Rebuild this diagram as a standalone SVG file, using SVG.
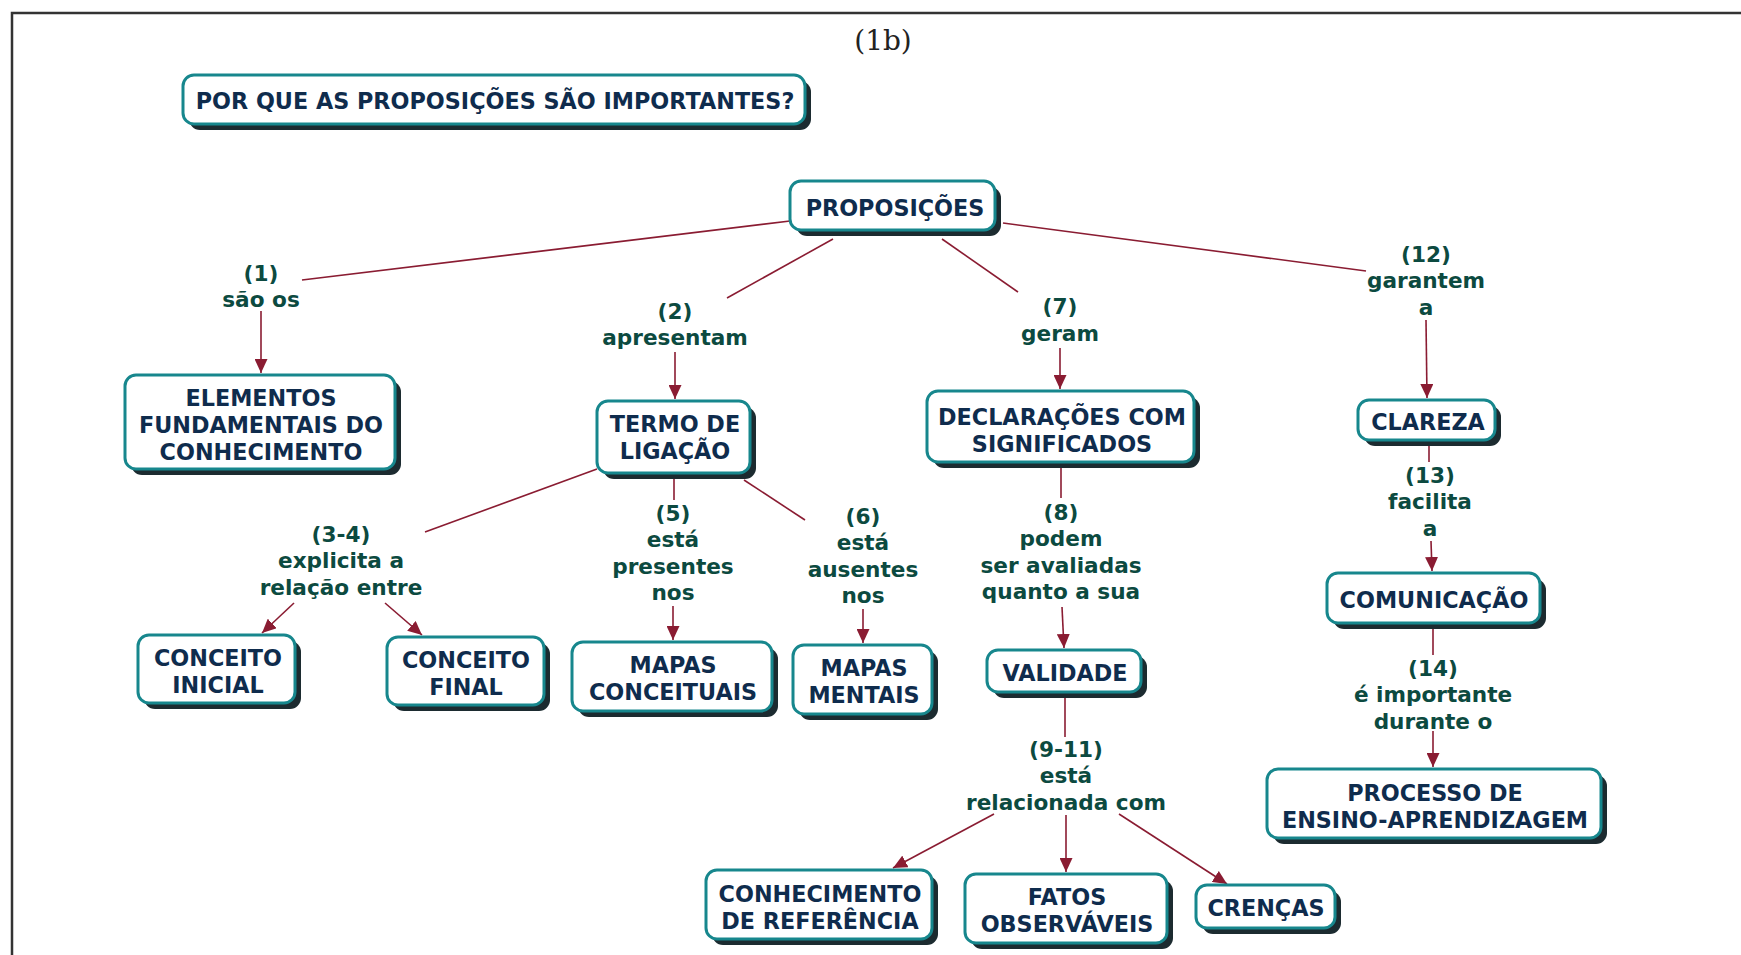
<svg xmlns="http://www.w3.org/2000/svg" width="1741" height="955" viewBox="0 0 1741 955">
  <defs>
    <marker id="arrow" markerUnits="userSpaceOnUse" markerWidth="15" markerHeight="13" refX="14" refY="6.5" orient="auto">
      <path d="M0,0 L14,6.5 L0,13 z" fill="#8a1c32"/>
    </marker>
    <style>
      .shadow { fill: #1c2b30; }
      .box { fill: #ffffff; stroke: #17878d; stroke-width: 3; }
      .nt { font-family: "DejaVu Sans", Verdana, sans-serif; font-weight: bold; font-size: 22.3px; fill: #0f2c4d; text-anchor: middle; }
      .lt { font-family: "DejaVu Sans", Verdana, sans-serif; font-weight: bold; font-size: 21.6px; fill: #0c4a40; text-anchor: middle; }
      .ln { fill: none; stroke: #8a1c32; stroke-width: 1.6; }
      .ar { marker-end: url(#arrow); }
    </style>
  </defs>

  <rect width="1741" height="955" fill="#ffffff"/>

  <!-- outer frame (open at right and bottom) -->
  <path d="M12,955 L12,13 L1741,13" fill="none" stroke="#333333" stroke-width="2.5"/>

  <text x="883" y="50" font-family="DejaVu Serif, 'Liberation Serif', serif" font-size="28" fill="#222222" text-anchor="middle">(1b)</text>

  <!-- connectors -->
  <g id="connectors">
    <line class="ln" x1="790" y1="221" x2="302" y2="280"/>
    <line class="ln ar" x1="261" y1="311" x2="261" y2="373"/>
    <line class="ln" x1="833" y1="239" x2="727" y2="298"/>
    <line class="ln ar" x1="675" y1="352" x2="675" y2="399"/>
    <line class="ln" x1="942" y1="239" x2="1018" y2="292"/>
    <line class="ln ar" x1="1060" y1="348" x2="1060" y2="389"/>
    <line class="ln" x1="1003" y1="223" x2="1366" y2="271"/>
    <line class="ln ar" x1="1426" y1="320" x2="1427" y2="398"/>
    <line class="ln" x1="1429" y1="446" x2="1429" y2="462"/>
    <line class="ln ar" x1="1431" y1="541" x2="1432" y2="571"/>
    <line class="ln" x1="1433" y1="627" x2="1433" y2="655"/>
    <line class="ln ar" x1="1433" y1="731" x2="1433" y2="767"/>
    <line class="ln" x1="597" y1="469" x2="425" y2="532"/>
    <line class="ln ar" x1="294" y1="603" x2="262" y2="633"/>
    <line class="ln ar" x1="385" y1="603" x2="422" y2="635"/>
    <line class="ln" x1="674" y1="475" x2="674" y2="500"/>
    <line class="ln ar" x1="673" y1="606" x2="673" y2="640"/>
    <line class="ln" x1="744" y1="480" x2="805" y2="520"/>
    <line class="ln ar" x1="863" y1="609" x2="863" y2="643"/>
    <line class="ln" x1="1061" y1="464" x2="1061" y2="498"/>
    <line class="ln ar" x1="1062" y1="607" x2="1064" y2="648"/>
    <line class="ln" x1="1065" y1="694" x2="1065" y2="737"/>
    <line class="ln ar" x1="994" y1="814" x2="893" y2="868"/>
    <line class="ln ar" x1="1066" y1="815" x2="1066" y2="872"/>
    <line class="ln ar" x1="1119" y1="814" x2="1227" y2="884"/>
  </g>

  <!-- linking phrases -->
  <g id="link-1"><text class="lt" x="261" y="281">(1)</text><text class="lt" x="261" y="307">são os</text></g>
  <g id="link-2"><text class="lt" x="675" y="319">(2)</text><text class="lt" x="675" y="345">apresentam</text></g>
  <g id="link-7"><text class="lt" x="1060" y="314">(7)</text><text class="lt" x="1060" y="341">geram</text></g>
  <g id="link-12"><text class="lt" x="1426" y="262">(12)</text><text class="lt" x="1426" y="288">garantem</text><text class="lt" x="1426" y="315">a</text></g>
  <g id="link-13"><text class="lt" x="1430" y="483">(13)</text><text class="lt" x="1430" y="509">facilita</text><text class="lt" x="1430" y="536">a</text></g>
  <g id="link-14"><text class="lt" x="1433" y="676">(14)</text><text class="lt" x="1433" y="702">é importante</text><text class="lt" x="1433" y="729">durante o</text></g>
  <g id="link-3-4"><text class="lt" x="341" y="542">(3-4)</text><text class="lt" x="341" y="568">explicita a</text><text class="lt" x="341" y="595">relação entre</text></g>
  <g id="link-5"><text class="lt" x="673" y="521">(5)</text><text class="lt" x="673" y="547">está</text><text class="lt" x="673" y="574">presentes</text><text class="lt" x="673" y="600">nos</text></g>
  <g id="link-6"><text class="lt" x="863" y="524">(6)</text><text class="lt" x="863" y="550">está</text><text class="lt" x="863" y="577">ausentes</text><text class="lt" x="863" y="603">nos</text></g>
  <g id="link-8"><text class="lt" x="1061" y="520">(8)</text><text class="lt" x="1061" y="546">podem</text><text class="lt" x="1061" y="573">ser avaliadas</text><text class="lt" x="1061" y="599">quanto a sua</text></g>
  <g id="link-9-11"><text class="lt" x="1066" y="757">(9-11)</text><text class="lt" x="1066" y="783">está</text><text class="lt" x="1066" y="810">relacionada com</text></g>

  <!-- concept nodes -->
  <g id="node-pergunta">
    <rect class="shadow" x="189" y="81" width="622" height="49" rx="11"/>
    <rect class="box" x="183" y="75" width="622" height="49" rx="11"/>
    <text class="nt" x="495" y="109">POR QUE AS PROPOSIÇÕES SÃO IMPORTANTES?</text>
  </g>
  <g id="node-proposicoes">
    <rect class="shadow" x="796" y="187" width="205" height="49" rx="11"/>
    <rect class="box" x="790" y="181" width="205" height="49" rx="11"/>
    <text class="nt" x="895" y="216">PROPOSIÇÕES</text>
  </g>
  <g id="node-elementos">
    <rect class="shadow" x="131" y="381" width="270" height="94" rx="11"/>
    <rect class="box" x="125" y="375" width="270" height="94" rx="11"/>
    <text class="nt" x="261" y="406">ELEMENTOS</text>
    <text class="nt" x="261" y="433">FUNDAMENTAIS DO</text>
    <text class="nt" x="261" y="460">CONHECIMENTO</text>
  </g>
  <g id="node-termo">
    <rect class="shadow" x="603" y="407" width="153" height="72" rx="11"/>
    <rect class="box" x="597" y="401" width="153" height="72" rx="11"/>
    <text class="nt" x="675" y="432">TERMO DE</text>
    <text class="nt" x="675" y="459">LIGAÇÃO</text>
  </g>
  <g id="node-declaracoes">
    <rect class="shadow" x="933" y="397" width="267" height="71" rx="11"/>
    <rect class="box" x="927" y="391" width="267" height="71" rx="11"/>
    <text class="nt" x="1062" y="425">DECLARAÇÕES COM</text>
    <text class="nt" x="1062" y="452">SIGNIFICADOS</text>
  </g>
  <g id="node-clareza">
    <rect class="shadow" x="1364" y="406" width="137" height="40" rx="11"/>
    <rect class="box" x="1358" y="400" width="137" height="40" rx="11"/>
    <text class="nt" x="1428" y="430">CLAREZA</text>
  </g>
  <g id="node-conceito-inicial">
    <rect class="shadow" x="144" y="641" width="157" height="68" rx="11"/>
    <rect class="box" x="138" y="635" width="157" height="68" rx="11"/>
    <text class="nt" x="218" y="666">CONCEITO</text>
    <text class="nt" x="218" y="693">INICIAL</text>
  </g>
  <g id="node-conceito-final">
    <rect class="shadow" x="393" y="643" width="157" height="68" rx="11"/>
    <rect class="box" x="387" y="637" width="157" height="68" rx="11"/>
    <text class="nt" x="466" y="668">CONCEITO</text>
    <text class="nt" x="466" y="695">FINAL</text>
  </g>
  <g id="node-mapas-conceituais">
    <rect class="shadow" x="578" y="648" width="200" height="69" rx="11"/>
    <rect class="box" x="572" y="642" width="200" height="69" rx="11"/>
    <text class="nt" x="673" y="673">MAPAS</text>
    <text class="nt" x="673" y="700">CONCEITUAIS</text>
  </g>
  <g id="node-mapas-mentais">
    <rect class="shadow" x="799" y="651" width="139" height="69" rx="11"/>
    <rect class="box" x="793" y="645" width="139" height="69" rx="11"/>
    <text class="nt" x="864" y="676">MAPAS</text>
    <text class="nt" x="864" y="703">MENTAIS</text>
  </g>
  <g id="node-validade">
    <rect class="shadow" x="993" y="656" width="154" height="42" rx="11"/>
    <rect class="box" x="987" y="650" width="154" height="42" rx="11"/>
    <text class="nt" x="1065" y="681">VALIDADE</text>
  </g>
  <g id="node-comunicacao">
    <rect class="shadow" x="1333" y="579" width="213" height="50" rx="11"/>
    <rect class="box" x="1327" y="573" width="213" height="50" rx="11"/>
    <text class="nt" x="1434" y="608">COMUNICAÇÃO</text>
  </g>
  <g id="node-processo">
    <rect class="shadow" x="1273" y="775" width="334" height="69" rx="11"/>
    <rect class="box" x="1267" y="769" width="334" height="69" rx="11"/>
    <text class="nt" x="1435" y="801">PROCESSO DE</text>
    <text class="nt" x="1435" y="828">ENSINO-APRENDIZAGEM</text>
  </g>
  <g id="node-conhecimento-referencia">
    <rect class="shadow" x="712" y="876" width="226" height="69" rx="11"/>
    <rect class="box" x="706" y="870" width="226" height="69" rx="11"/>
    <text class="nt" x="820" y="902">CONHECIMENTO</text>
    <text class="nt" x="820" y="929">DE REFERÊNCIA</text>
  </g>
  <g id="node-fatos">
    <rect class="shadow" x="971" y="880" width="202" height="69" rx="11"/>
    <rect class="box" x="965" y="874" width="202" height="69" rx="11"/>
    <text class="nt" x="1067" y="905">FATOS</text>
    <text class="nt" x="1067" y="932">OBSERVÁVEIS</text>
  </g>
  <g id="node-crencas">
    <rect class="shadow" x="1202" y="891" width="139" height="43" rx="11"/>
    <rect class="box" x="1196" y="885" width="139" height="43" rx="11"/>
    <text class="nt" x="1266" y="916">CRENÇAS</text>
  </g>
</svg>
